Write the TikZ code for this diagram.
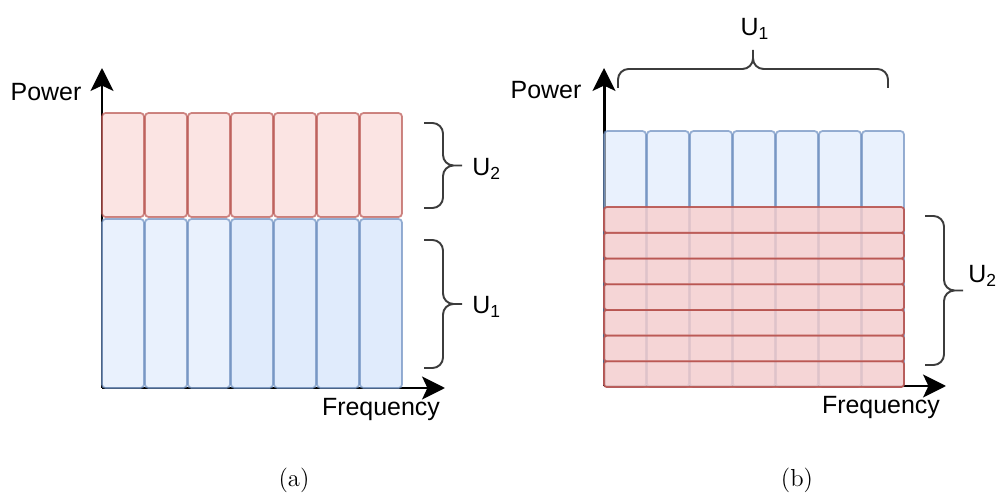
\documentclass[tikz,border=0pt]{standalone}
\usepackage{fontspec}
\newfontfamily\lblfont{Liberation Sans}
\usepackage{xcolor}
\usepackage{tikz}
\usetikzlibrary{positioning, arrows.meta, calc}

\definecolor{redfill}{HTML}{F8CECC}
\definecolor{redline}{HTML}{B85450}
\definecolor{bluefill}{HTML}{DAE8FC}
\definecolor{blueline}{HTML}{6C8EBF}
\definecolor{brcgray}{HTML}{3C3C3C}

\tikzset{
  axis/.style={line width=1.7pt, -{Stealth[length=13pt, width=13pt, inset=3pt]}},
  blk/.style={draw, rounded corners=2pt, line width=1pt, inner sep=0pt, outer sep=0pt, anchor=south west},
  redblk/.style={blk, fill=redfill, draw=redline, fill opacity=0.55, draw opacity=0.7, minimum width=0.84cm, minimum height=2.08cm},
  blueblk/.style={blk, fill=bluefill, draw=blueline, fill opacity=0.6, draw opacity=0.7, minimum width=0.84cm, minimum height=3.38cm},
  rowblk/.style={blk, fill=redfill, draw=redline, fill opacity=0.8, draw opacity=0.9, rounded corners=1.5pt, minimum width=6cm, minimum height=0.514cm},
  brc/.style={line width=1.1pt, draw=brcgray, rounded corners=6pt},
  lbl/.style={font=\lblfont\fontsize{14.2pt}{17pt}\selectfont, inner sep=0pt},
  captxt/.style={font=\fontsize{14pt}{17pt}\selectfont}
}

\begin{document}
\begin{tikzpicture}
  \useasboundingbox (0,0) rectangle (20.12,9.9);

  % (a) power split
  \coordinate (oa) at (2.04,2.14);
  \coordinate (ya) at (2.04,8.54);
  \coordinate (xa) at (8.90,2.14);
  \draw[axis] (oa) -- (ya);
  \draw[axis] (oa) -- (xa);

  \foreach \i in {0,...,6} {
    \node[redblk] (ra\i) at ({2.04+0.86*\i}, 5.56) {};
  }
  \foreach \i in {0,1,2} {
    \node[blueblk] (ba\i) at ({2.04+0.86*\i}, 2.14) {};
  }
  \foreach \i in {3,...,6} {
    \node[blueblk, fill opacity=0.85] (ba\i) at ({2.04+0.86*\i}, 2.14) {};
  }

  \node[lbl] (powa) at (0.92,8.06) {Power};
  \node[lbl] (freqa) at (7.62,1.70) {Frequency};

  % braces
  \coordinate (ta2) at (9.24,6.59);
  \coordinate (ta1) at (9.24,3.82);
  \draw[brc] (8.48,7.44) -- (8.86,7.44) -- (8.86,6.59) -- (ta2)
             (8.48,5.74) -- (8.86,5.74) -- (8.86,6.59) -- (ta2);
  \draw[brc] (8.48,5.10) -- (8.86,5.10) -- (8.86,3.82) -- (ta1)
             (8.48,2.54) -- (8.86,2.54) -- (8.86,3.82) -- (ta1);
  \node[lbl, anchor=west] (u2a) at (9.44,6.52) {U\textsubscript{2}};
  \node[lbl, anchor=west] (u1a) at (9.44,3.76) {U\textsubscript{1}};

  \node[captxt] (capa) at (5.88,0.30) {(a)};

  % (b) rows over columns
  \coordinate (ob) at (12.08,2.18);
  \coordinate (yb) at (12.08,8.54);
  \coordinate (xb) at (18.92,2.18);
  \draw[axis] (ob) -- (yb);
  \draw[axis] (ob) -- (xb);

  \foreach \i in {0,...,6} {
    \node[blueblk, minimum height=5.12cm] (bb\i) at ({12.08+0.86*\i}, 2.16) {};
  }
  \foreach \j in {0,...,6} {
    \node[rowblk] (rb\j) at (12.08, {2.16+0.514*\j}) {};
  }

  \node[lbl] (powb) at (10.92,8.10) {Power};
  \node[lbl] (freqb) at (17.62,1.74) {Frequency};

  % braces
  \coordinate (tb1) at (15.06,8.90);
  \coordinate (tb2) at (19.26,4.09);
  \draw[brc] (12.36,8.14) -- (12.36,8.52) -- (15.06,8.52) -- (tb1)
             (17.76,8.14) -- (17.76,8.52) -- (15.06,8.52) -- (tb1);
  \draw[brc] (18.50,5.58) -- (18.88,5.58) -- (18.88,4.09) -- (tb2)
             (18.50,2.60) -- (18.88,2.60) -- (18.88,4.09) -- (tb2);
  \node[lbl] (u1b) at (15.10,9.32) {U\textsubscript{1}};
  \node[lbl, anchor=west] (u2b) at (19.36,4.38) {U\textsubscript{2}};

  \node[captxt] (capb) at (15.94,0.30) {(b)};
\end{tikzpicture}
\end{document}
